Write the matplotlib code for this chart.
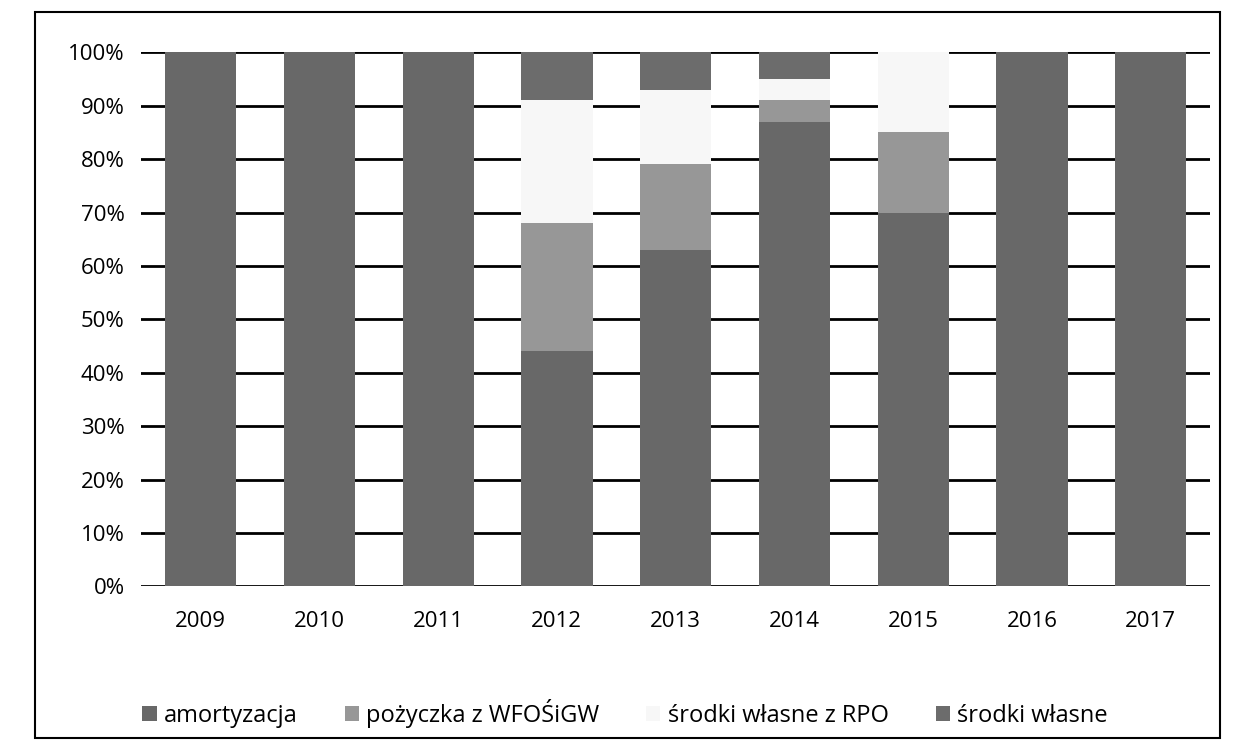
import matplotlib.pyplot as plt
import numpy as np
from matplotlib.patches import Rectangle

years = ["2009", "2010", "2011", "2012", "2013", "2014", "2015", "2016", "2017"]
amortyzacja = [100, 100, 100, 44, 63, 87, 70, 100, 100]
pozyczka = [0, 0, 0, 24, 16, 4, 15, 0, 0]
rpo = [0, 0, 0, 23, 14, 4, 15, 0, 0]
wlasne = [0, 0, 0, 9, 7, 5, 0, 0, 0]

series = [
    ("amortyzacja", amortyzacja, "#686868"),
    ("pożyczka z WFOŚiGW", pozyczka, "#979797"),
    ("środki własne z RPO", rpo, "#f7f7f7"),
    ("środki własne", wlasne, "#6c6c6c"),
]

plt.rcParams["font.family"] = ["Open Sans", "DejaVu Sans"]

fig = plt.figure(figsize=(12.5, 7.47), dpi=100)
ax = fig.add_axes([0.113, 0.215, 0.855, 0.715])

x = np.arange(len(years))
bottom = np.zeros(len(years))
for name, vals, col in series:
    vals = np.array(vals, dtype=float)
    ax.bar(x, vals, width=0.6, bottom=bottom, color=col, label=name, zorder=3)
    bottom += vals

ax.set_xlim(-0.5, len(years) - 0.5)
ax.set_ylim(0, 100)
ax.set_yticks(np.arange(0, 101, 10))
ax.set_yticklabels(["{}%".format(v) for v in range(0, 101, 10)], fontsize=16)
ax.set_xticks(x)
ax.set_xticklabels(years, fontsize=16)
ax.tick_params(length=0, pad=12)
ax.tick_params(axis="x", pad=18)
for s in ax.spines.values():
    s.set_visible(False)
ax.yaxis.grid(True, color="black", linewidth=2, zorder=0)
ax.set_axisbelow(True)

fig.legend(loc="center", bbox_to_anchor=(0.5, 0.045), ncol=4, frameon=False,
           fontsize=17, handlelength=0.6, handleheight=0.6, handletextpad=0.3,
           columnspacing=2.0)

fig.patches.append(Rectangle((0.028, 0.012), 0.948, 0.972, transform=fig.transFigure,
                             fill=False, edgecolor="black", linewidth=1.5))

fig.savefig("out.png", dpi=100)
